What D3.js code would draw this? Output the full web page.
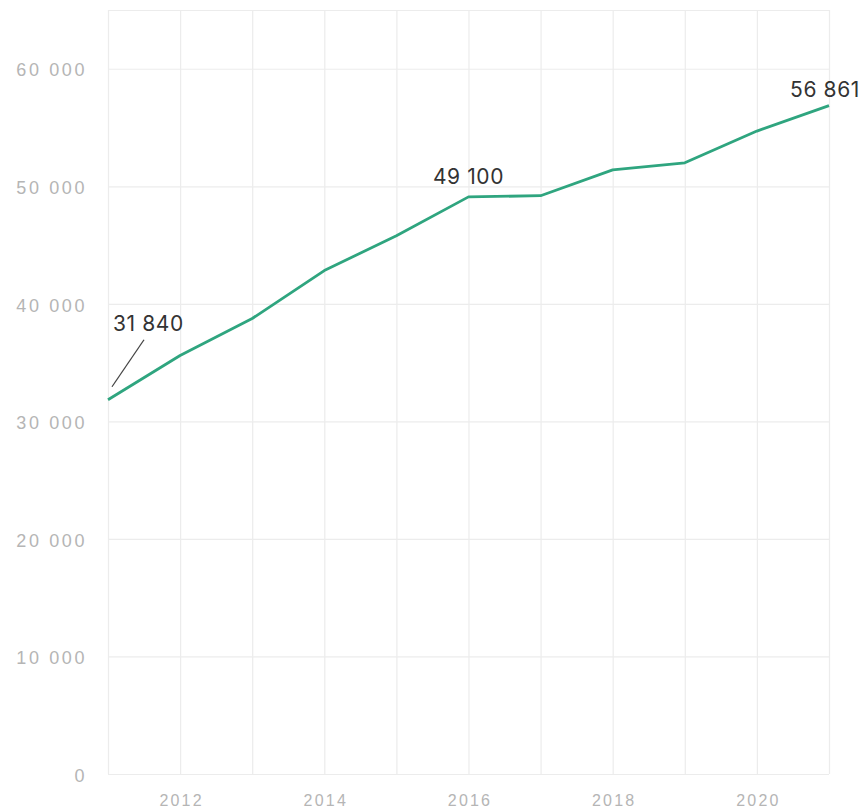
<!DOCTYPE html>
<html>
<head>
<meta charset="utf-8">
<script src="https://cdn.jsdelivr.net/npm/d3@7.9.0/dist/d3.min.js"></script>
<style>
  body { margin: 0; background: #fff; }
  svg { display: block; font-family: Inter, 'Open Sans', sans-serif; }
  .grid line { stroke: #ececec; stroke-width: 1.2; }
  .grid .domain { display: none; }
  .axis .domain { display: none; }
  .axis text { fill: #b5b5b5; font-weight: 300; }
  .yaxis text { font-size: 18px; letter-spacing: 2.6px; }
  .xaxis text { font-size: 16px; letter-spacing: 2.2px; }
  .note { fill: #333; font-size: 21px; letter-spacing: 0.6px; }
</style>
</head>
<body>
<div id="chart"></div>
<script>
const years = [2011, 2012, 2013, 2014, 2015, 2016, 2017, 2018, 2019, 2020, 2021];
const values = [31840, 35600, 38750, 42830, 45800, 49100, 49200, 51400, 52000, 54700, 56861];
const yTicks = [0, 10000, 20000, 30000, 40000, 50000, 60000];
const xTicks = [2012, 2014, 2016, 2018, 2020];
const labelled = [2011, 2016, 2021];

const width = 864;
const height = 809;

const svg = d3.select('#chart')
  .append('svg')
  .attr('width', width)
  .attr('height', height);

const xScale = d3.scaleLinear().domain([2011, 2021]).range([108, 829]);
const yScale = d3.scaleLinear().domain([0, 65000]).range([774, 10]);

const fmt = (d) => d3.format(',')(d).replace(/,/g, ' ');

// gridlines
svg.append('g')
  .attr('class', 'grid')
  .attr('transform', `translate(0, ${yScale(0)})`)
  .call(d3.axisBottom(xScale).tickValues(years).tickFormat('').tickSize(-(yScale(0) - yScale(65000))));

svg.append('g')
  .attr('class', 'grid')
  .attr('transform', `translate(${xScale(2011)}, 0)`)
  .call(d3.axisLeft(yScale).tickValues(yTicks.concat([65000])).tickFormat('').tickSize(-(xScale(2021) - xScale(2011))));

// axes
svg.append('g')
  .attr('class', 'axis yaxis')
  .attr('transform', `translate(${xScale(2011)}, 0)`)
  .call(d3.axisLeft(yScale).tickValues(yTicks).tickFormat(fmt).tickSize(0).tickPadding(21))
  .selectAll('text')
  .attr('dy', '0.4em');

svg.append('g')
  .attr('class', 'axis xaxis')
  .attr('transform', `translate(0, ${yScale(0)})`)
  .call(d3.axisBottom(xScale).tickValues(xTicks).tickFormat(d3.format('d')).tickSize(0).tickPadding(21))
  .selectAll('text')
  .attr('dx', '1px');

// line
const line = d3.line()
  .x((d, i) => xScale(years[i]))
  .y((d) => yScale(d));

svg.append('path')
  .datum(values)
  .attr('fill', 'none')
  .attr('stroke', '#2fa57f')
  .attr('stroke-width', 2.8)
  .attr('stroke-linejoin', 'round')
  .attr('d', line);

// value labels
labelled.forEach((yr) => {
  const v = values[years.indexOf(yr)];
  const x = xScale(yr);
  const y = yScale(v);
  if (yr === 2011) {
    svg.append('line')
      .attr('x1', x + 4).attr('y1', y - 13)
      .attr('x2', x + 36).attr('y2', y - 60)
      .attr('stroke', '#444').attr('stroke-width', 1.3);
    svg.append('text')
      .attr('class', 'note')
      .attr('x', x + 5)
      .attr('y', y - 69)
      .text(fmt(v));
  } else if (yr === 2021) {
    svg.append('text')
      .attr('class', 'note')
      .attr('x', x - 4)
      .attr('y', y - 9)
      .attr('text-anchor', 'middle')
      .text(fmt(v));
  } else {
    svg.append('text')
      .attr('class', 'note')
      .attr('x', x)
      .attr('y', y - 13)
      .attr('text-anchor', 'middle')
      .text(fmt(v));
  }
});
</script>
</body>
</html>
